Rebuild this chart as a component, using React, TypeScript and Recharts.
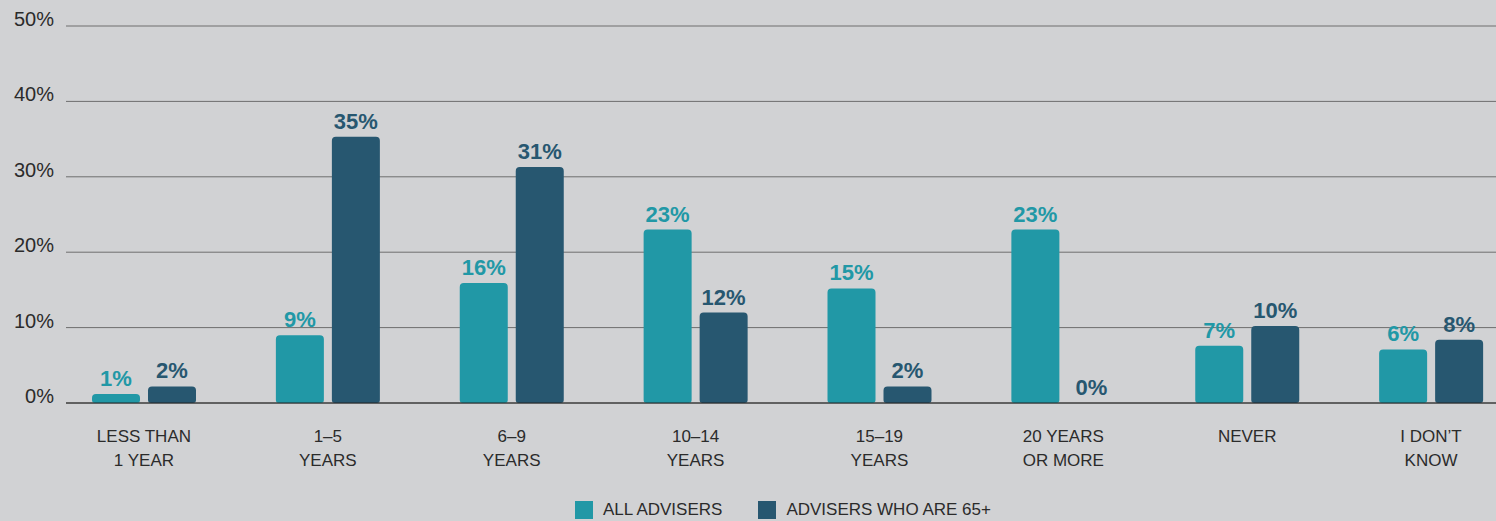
import React from "react";
import {
  BarChart,
  Bar,
  XAxis,
  YAxis,
  CartesianGrid,
  Legend,
  LabelList,
} from "recharts";

// values, in percent
const categories = [
  "LESS THAN\n1 YEAR",
  "1–5\nYEARS",
  "6–9\nYEARS",
  "10–14\nYEARS",
  "15–19\nYEARS",
  "20 YEARS\nOR MORE",
  "NEVER",
  "I DON’T\nKNOW",
];
const allAdvisers = [1.2, 9, 15.9, 23, 15.2, 23, 7.6, 7.1];
const advisers65 = [2.2, 35.3, 31.3, 12, 2.2, 0, 10.2, 8.4];
const allLabels = ["1%", "9%", "16%", "23%", "15%", "23%", "7%", "6%"];
const labels65 = ["2%", "35%", "31%", "12%", "2%", "0%", "10%", "8%"];
const yTicks = [0, 10, 20, 30, 40, 50];

const TEAL = "#2198a6";
const NAVY = "#275770";
const TEXT = "#2b2b2b";
const FONT = "'Liberation Sans', Arial, sans-serif";

const data = categories.map((name, i) => ({
  name,
  all: allAdvisers[i],
  senior: advisers65[i],
  allLabel: allLabels[i],
  seniorLabel: labels65[i],
}));

const YTick = ({ x, y, payload }: any) => (
  <text
    x={x - 4}
    y={y}
    textAnchor="end"
    fill={TEXT}
    fontSize={20}
    fontFamily={FONT}
  >
    {payload.value}%
  </text>
);

const XTick = ({ x, y, payload }: any) => {
  const lines = String(payload.value).split("\n");
  return (
    <text textAnchor="middle" fill={TEXT} fontSize={17} fontFamily={FONT}>
      {lines.map((line, i) => (
        <tspan key={i} x={x} y={y + 31 + i * 24}>
          {line}
        </tspan>
      ))}
    </text>
  );
};

const barLabel = (color: string) => (props: any) => {
  const { x, y, width, height, value } = props;
  const top = Math.min(y, y + (height || 0));
  return (
    <text
      x={x + width / 2}
      y={top - 8}
      textAnchor="middle"
      fill={color}
      fontSize={22}
      fontWeight="bold"
      fontFamily={FONT}
    >
      {value}
    </text>
  );
};

// zero bars are dropped by recharts; a hair-thin bar keeps the "0%" label
const keepZero = (value: any) => (value === 0 ? 0.01 : 0);

const LegendContent = () => {
  const items = [
    { label: "ALL ADVISERS", color: TEAL },
    { label: "ADVISERS WHO ARE 65+", color: NAVY },
  ];
  return (
    <div style={{ display: "flex", alignItems: "center" }}>
      {items.map((item) => (
        <div
          key={item.label}
          style={{ display: "flex", alignItems: "center", marginRight: 36 }}
        >
          <span
            style={{
              width: 18,
              height: 18,
              background: item.color,
              display: "inline-block",
              marginRight: 10,
            }}
          />
          <span
            style={{
              fontFamily: FONT,
              fontSize: 17,
              color: TEXT,
              lineHeight: "18px",
              whiteSpace: "nowrap",
            }}
          >
            {item.label}
          </span>
        </div>
      ))}
    </div>
  );
};

export default function App() {
  return (
    <div
      style={{
        position: "absolute",
        left: 0,
        top: 0,
        width: 1496,
        height: 521,
        background: "#d1d2d4",
        overflow: "hidden",
      }}
    >
      <BarChart
        width={1496}
        height={521}
        data={data}
        margin={{ top: 26, right: 0, left: 0, bottom: 0 }}
        barSize={48}
        barGap={8}
      >
        <CartesianGrid vertical={false} stroke="#6e6e6e" />
        <XAxis
          dataKey="name"
          height={118}
          interval={0}
          tickLine={false}
          axisLine={{ stroke: "#222", strokeWidth: 1.2 }}
          tick={<XTick />}
          padding={{ left: -14, right: -27 }}
        />
        <YAxis
          width={66}
          domain={[0, 50]}
          ticks={yTicks}
          axisLine={false}
          tickLine={false}
          tick={<YTick />}
        />
        <Legend
          layout="horizontal"
          verticalAlign="middle"
          align="center"
          content={<LegendContent />}
          wrapperStyle={{ position: "absolute", left: 575, top: 501, width: 500 }}
        />
        <Bar
          dataKey="all"
          fill={TEAL}
          radius={[4, 4, 3, 3]}
          isAnimationActive={false}
        >
          <LabelList dataKey="allLabel" content={barLabel(TEAL)} />
        </Bar>
        <Bar
          dataKey="senior"
          fill={NAVY}
          radius={[4, 4, 3, 3]}
          minPointSize={keepZero}
          isAnimationActive={false}
        >
          <LabelList dataKey="seniorLabel" content={barLabel(NAVY)} />
        </Bar>
      </BarChart>
    </div>
  );
}
